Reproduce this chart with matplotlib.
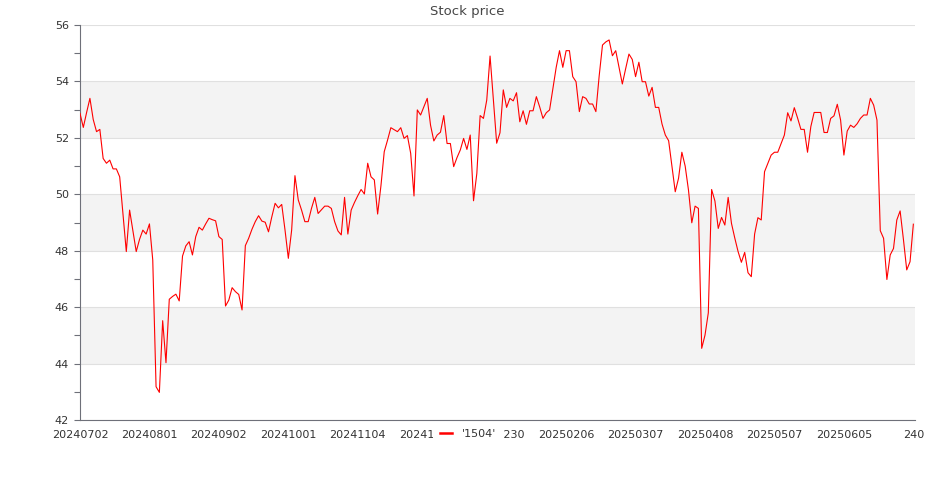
import numpy as np
import matplotlib.pyplot as plt
from matplotlib.ticker import MultipleLocator

# closing prices (one value per trading day)
prices = [
    52.87, 52.37, 52.90, 53.40, 52.65, 52.22, 52.30, 51.27, 51.10, 51.21,
    50.90, 50.90, 50.62, 49.30, 47.97, 49.44, 48.70, 47.97, 48.40, 48.73,
    48.59, 48.95, 47.67, 43.18, 42.98, 45.52, 44.03, 46.28, 46.38, 46.46,
    46.22, 47.81, 48.17, 48.32, 47.85, 48.50, 48.83, 48.73, 48.95, 49.15,
    49.10, 49.06, 48.50, 48.40, 46.04, 46.25, 46.69, 46.55, 46.45, 45.90,
    48.18, 48.44, 48.76, 49.03, 49.24, 49.05, 49.01, 48.67, 49.20, 49.68,
    49.52, 49.64, 48.73, 47.73, 48.73, 50.66, 49.80, 49.44, 49.03, 49.03,
    49.50, 49.89, 49.32, 49.45, 49.58, 49.58, 49.50, 49.03, 48.70, 48.56,
    49.89, 48.59, 49.44, 49.71, 49.95, 50.17, 50.01, 51.10, 50.62, 50.51,
    49.30, 50.30, 51.51, 51.92, 52.36, 52.29, 52.22, 52.36, 51.98, 52.08,
    51.45, 49.94, 52.99, 52.81, 53.10, 53.40, 52.45, 51.89, 52.10, 52.20,
    52.79, 51.80, 51.80, 50.98, 51.30, 51.57, 51.98, 51.59, 52.10, 49.77,
    50.74, 52.79, 52.69, 53.34, 54.90, 53.34, 51.81, 52.18, 53.70, 53.08,
    53.40, 53.31, 53.60, 52.57, 52.96, 52.48, 52.96, 52.96, 53.46, 53.10,
    52.69, 52.89, 52.99, 53.75, 54.50, 55.09, 54.50, 55.09, 55.09, 54.17,
    53.99, 52.93, 53.46, 53.40, 53.20, 53.20, 52.93, 54.20, 55.29, 55.40,
    55.47, 54.91, 55.09, 54.50, 53.91, 54.45, 54.97, 54.78, 54.17, 54.68,
    53.99, 53.99, 53.48, 53.79, 53.08, 53.08, 52.49, 52.10, 51.90, 51.00,
    50.09, 50.57, 51.49, 51.00, 50.15, 48.99, 49.58, 49.50, 44.54, 45.01,
    45.80, 50.17, 49.76, 48.79, 49.18, 48.91, 49.89, 48.97, 48.45, 47.97,
    47.59, 47.94, 47.22, 47.08, 48.59, 49.17, 49.09, 50.80, 51.10, 51.39,
    51.49, 51.49, 51.80, 52.10, 52.89, 52.60, 53.07, 52.70, 52.30, 52.30,
    51.49, 52.40, 52.90, 52.90, 52.90, 52.19, 52.19, 52.69, 52.78, 53.19,
    52.63, 51.39, 52.24, 52.45, 52.37, 52.50, 52.69, 52.81, 52.81, 53.40,
    53.16, 52.63, 48.71, 48.44, 46.98, 47.85, 48.08, 49.09, 49.41, 48.40,
    47.32, 47.61, 48.94,
]
tick_pos = [0, 21, 42, 63, 84, 105, 126, 147, 168, 189, 210, 231, 252]
tick_labels = ['20240702', '20240801', '20240902', '20241001', '20241104',
               '20241203', '20241230', '20250206', '20250307', '20250408',
               '20250507', '20250605', '240']
series_name = "'1504'"

fig = plt.figure(figsize=(9.35, 5), dpi=100)
ax = fig.add_axes([80 / 935, 80 / 500, 835 / 935, 395 / 500])

x = np.arange(len(prices))
line, = ax.plot(x, prices, color='#ff0000', lw=0.8, zorder=3)

# alternating shaded bands like the original
for lo in (44, 48, 52):
    ax.axhspan(lo, lo + 2, color='#f3f3f3', lw=0, zorder=0)

ax.set_xlim(0, len(prices) - 0.5)
ax.set_ylim(42, 56)
ax.yaxis.set_major_locator(MultipleLocator(2))
ax.yaxis.set_minor_locator(MultipleLocator(1))
ax.yaxis.grid(True, which='major', color='#e0e0e0', lw=0.8, zorder=1)
ax.set_axisbelow(True)

ax.set_xticks(tick_pos)
ax.set_xticklabels(tick_labels)
ax.tick_params(axis='x', length=0, pad=7, labelsize=8, labelcolor='#333333')
ax.tick_params(axis='y', which='both', length=4, color='#6e7079', width=0.8,
               pad=4, labelsize=8, labelcolor='#333333')

for s in ('top', 'right'):
    ax.spines[s].set_visible(False)
for s in ('left', 'bottom'):
    ax.spines[s].set_color('#6e7079')
    ax.spines[s].set_linewidth(0.8)

fig.text(0.5, 1 - 12 / 500, 'Stock price', ha='center', va='center',
         fontsize=9.5, color='#464646')

# legend sits on top of the x labels, covering part of two of them
leg = fig.legend([line], [series_name], loc='center',
                 bbox_to_anchor=(468 / 935, 1 - 434 / 500), fontsize=8,
                 frameon=True, facecolor='white', edgecolor='none',
                 framealpha=1, handlelength=1.1, handletextpad=0.9,
                 borderpad=0.6, borderaxespad=0, fancybox=False)
for h in leg.get_lines():
    h.set_linewidth(1.8)
for t in leg.get_texts():
    t.set_color('#333333')

fig.savefig('out.png', dpi=100)
